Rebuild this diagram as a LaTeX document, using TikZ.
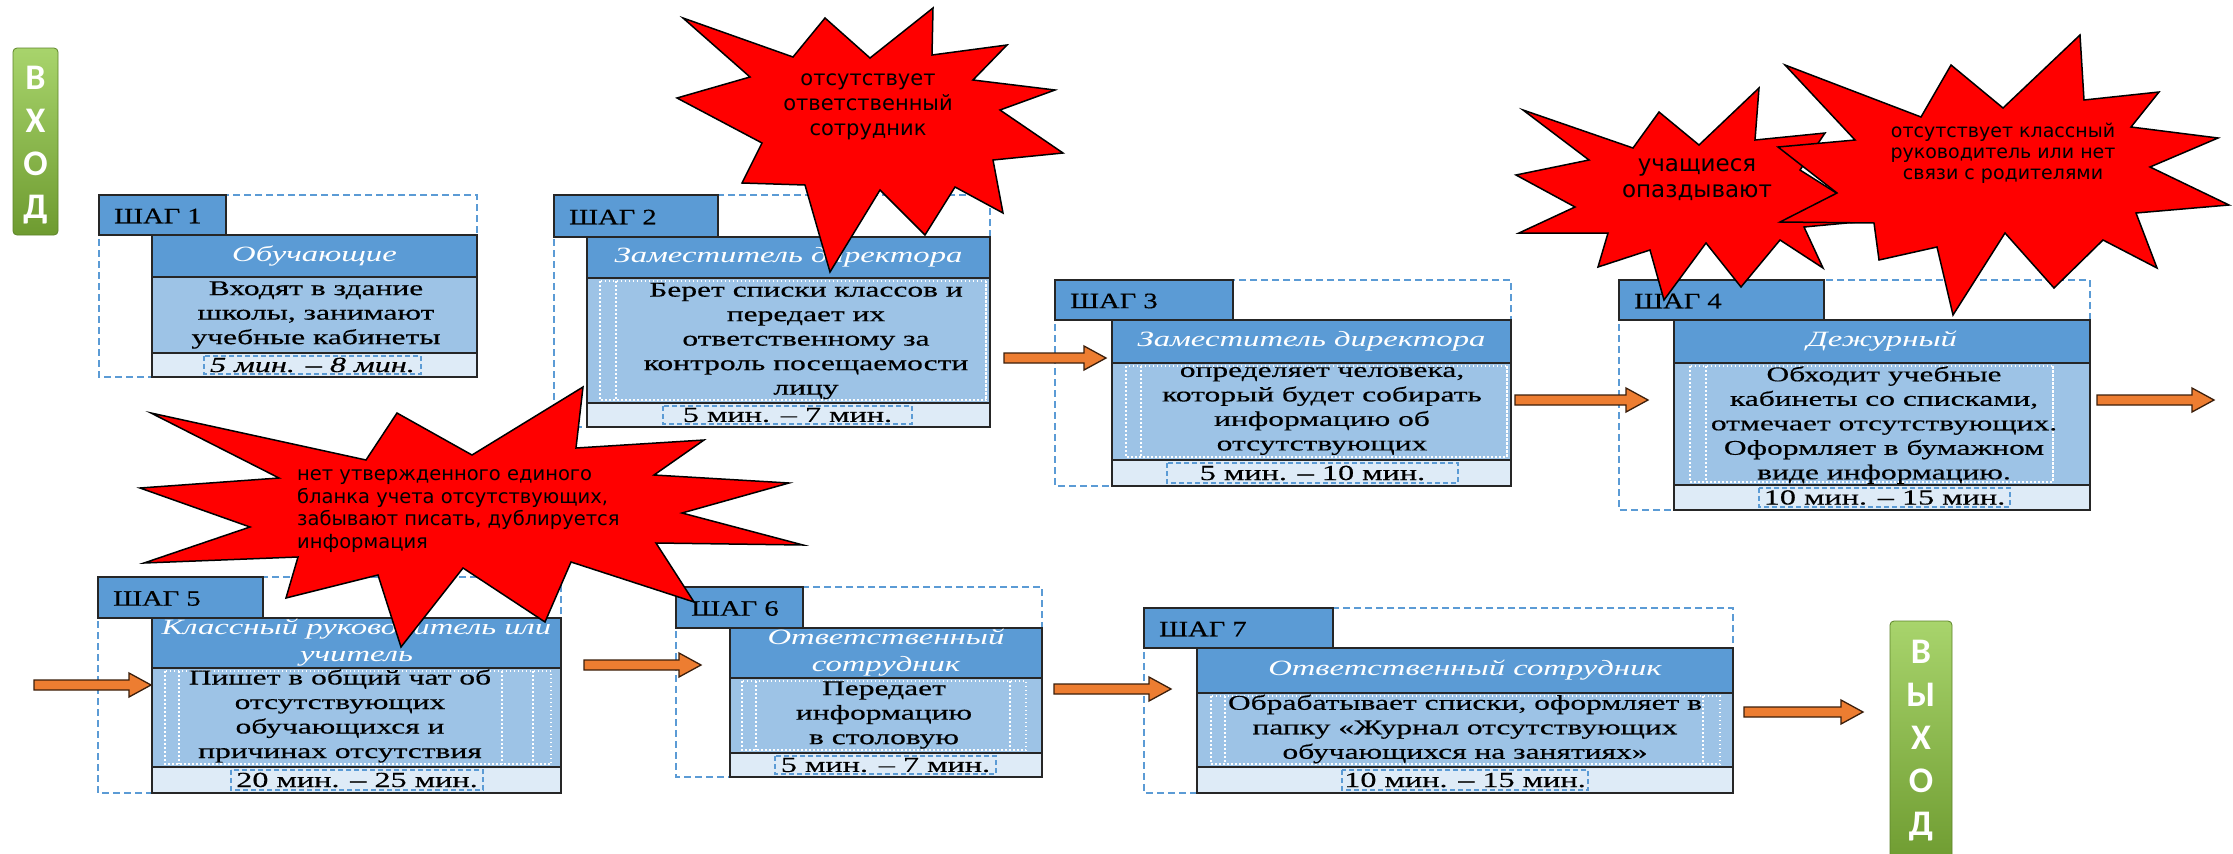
\documentclass[tikz,border=0pt]{standalone}
\usepackage{fontspec}
\setmainfont{Liberation Serif}
\newfontfamily\serifS[FakeStretch=1.5,FakeBold=0.4]{Liberation Serif}
\newfontfamily\labfont[FakeStretch=1.3,FakeBold=0.4]{Liberation Serif}
\newfontfamily\hdrfont[FakeStretch=1.5]{Liberation Serif}
\newfontfamily\starfont{DejaVu Sans}
\newfontfamily\barfont{Carlito}
\usetikzlibrary{calc}

\definecolor{hdrblue}{HTML}{5B9BD5}
\definecolor{bodyblue}{HTML}{9DC3E6}
\definecolor{timeblue}{HTML}{DEEBF7}
\definecolor{dashblue}{HTML}{5B9BD5}
\definecolor{arrorange}{HTML}{ED7D31}
\definecolor{starred}{HTML}{FF0000}
\definecolor{bartop}{HTML}{A8D46C}
\definecolor{barbot}{HTML}{6E9B30}

\def\getX#1,#2,#3,#4\relax{\def\Xa{#1}\def\Xb{#2}\def\Xc{#3}\def\Xd{#4}}
\def\getY#1,#2,#3,#4,#5\relax{\def\Ya{#1}\def\Yb{#2}\def\Yc{#3}\def\Yd{#4}\def\Ye{#5}}
\def\getT#1,#2\relax{\def\Ta{#1}\def\Tb{#2}}

\newcommand\makestep[7]{%
  \getX#2\relax\getY#3\relax\getT#4\relax
  \draw[outerdash] (\Xa,\Ya) rectangle (\Xd,\Ye);
  \filldraw[boxline,fill=hdrblue] (\Xa,\Ya) rectangle (\Xb,\Yb);
  \node[labtext] (#1-lab) at ({\Xa+15},{(\Ya+\Yb)/2+1}) {#5};
  \filldraw[boxline,fill=hdrblue] (\Xc,\Yb) rectangle (\Xd,\Yc);
  \node[hdrtext] (#1-hdr) at ({(\Xc+\Xd)/2},{(\Yb+\Yc)/2}) {#6};
  \filldraw[boxline,fill=bodyblue] (\Xc,\Yc) rectangle (\Xd,\Yd);
  \filldraw[boxline,fill=timeblue] (\Xc,\Yd) rectangle (\Xd,\Ye);
  \draw[innerdash] (\Ta,{\Yd+3}) rectangle (\Tb,{\Ye-3});
  \node[timetext] (#1-time) at ({(\Ta+\Tb)/2},{(\Yd+\Ye)/2}) {#7};
}
\newcommand\wdots[4]{%
  \draw[wdot] ({\Xc+#1},{\Yc+3}) rectangle ({\Xd-#3},{\Yd-3});
  \draw[wdot] ({\Xc+#2},{\Yc+3}) -- ({\Xc+#2},{\Yd-3});
  \draw[wdot] ({\Xd-#4},{\Yc+3}) -- ({\Xd-#4},{\Yd-3});
}
\newcommand\blockarrow[2]{%
  \filldraw[arrowstyle] ($(#1)+(0,-5)$) -- ($(#2)+(-22,-5)$) -- ($(#2)+(-22,-12)$)
    -- (#2) -- ($(#2)+(-22,12)$) -- ($(#2)+(-22,5)$) -- ($(#1)+(0,5)$) -- cycle;
}

\tikzset{
  outerdash/.style={draw=dashblue,dash pattern=on 7pt off 4pt,line width=1.8pt},
  innerdash/.style={draw=dashblue,dash pattern=on 5pt off 3pt,line width=1.5pt},
  wdot/.style={draw=white,dash pattern=on 1.5pt off 2.5pt,line width=1.5pt},
  boxline/.style={draw=black!85,line width=2.2pt},
  labtext/.style={anchor=west,inner sep=0pt,font=\labfont\fontsize{22}{25}\selectfont},
  hdrtext/.style={text=white,align=center,inner sep=0pt,font=\hdrfont\itshape\fontsize{21.8}{27}\selectfont},
  timetext/.style={inner sep=0pt,font=\serifS\fontsize{21.5}{24}\selectfont},
  bodytext/.style={align=center,inner sep=0pt,font=\serifS\fontsize{21}{24.5}\selectfont},
  arrowstyle/.style={fill=arrorange,draw=black!75!arrorange,line width=1.3pt,line join=miter},
  starshape/.style={fill=starred,draw=black,line width=1.5pt,line join=miter},
  startext/.style={inner sep=0pt,align=center,font=\starfont\fontsize{21}{25}\selectfont},
  barshape/.style={top color=bartop,bottom color=barbot,draw=barbot!85!black,line width=0.8pt,rounded corners=4pt},
  bartext/.style={text=white,align=center,inner sep=0pt,font=\barfont\bfseries\fontsize{36}{43}\selectfont}
}

\begin{document}
\begin{tikzpicture}[x=1pt,y=-1pt]
\useasboundingbox (0,0) rectangle (2233,854);
\fill[white] (0,0) rectangle (2233,854);

% ---------- steps ----------
\makestep{s1}{99,226,152,477}{195,235,277,353,377}{204,421}{ШАГ 1}{Обучающие}{\itshape 5 мин. – 8 мин.}
\node[bodytext] (s1-body) at (316,315) {Входят в здание\\школы, занимают\\учебные кабинеты};

\makestep{s2}{554,718,587,990}{195,237,278,403,427}{663,912}{ШАГ 2}{Заместитель директора}{5 мин. – 7 мин.}
\wdots{13}{29}{4}{4}
\node[bodytext] (s2-body) at (806,341) {Берет списки классов и\\передает их\\ответственному за\\контроль посещаемости\\лицу};

\makestep{s3}{1055,1233,1112,1511}{280,320,363,460,486}{1167,1458}{ШАГ 3}{Заместитель директора}{5 мин. – 10 мин.}
\wdots{14}{29}{4}{4}
\node[bodytext] (s3-body) at (1322,411) {определяет человека,\\который будет собирать\\информацию об\\отсутствующих};

\makestep{s4}{1619,1824,1674,2090}{280,320,363,485,510}{1759,2010}{ШАГ 4}{Дежурный}{10 мин. – 15 мин.}
\wdots{16}{32}{37}{37}
\node[bodytext] (s4-body) at (1884,425) {Обходит учебные\\кабинеты со списками,\\отмечает отсутствующих.\\Оформляет в бумажном\\виде информацию.};

\makestep{s5}{98,263,152,561}{577,618,668,767,793}{231,483}{ШАГ 5}{Классный руководитель или\\учитель}{20 мин. – 25 мин.}
\wdots{13}{27}{10}{28}
\draw[wdot] (502,671) -- (502,764);
\node[bodytext] (s5-body) at (340,716) {Пишет в общий чат об\\отсутствующих\\обучающихся и\\причинах отсутствия};

\makestep{s6}{676,803,730,1042}{587,628,678,753,777}{775,996}{ШАГ 6}{Ответственный\\сотрудник}{5 мин. – 7 мин.}
\wdots{12}{26}{16}{32}
\node[bodytext] (s6-body) at (884,715) {Передает\\информацию\\в столовую};

\makestep{s7}{1144,1333,1197,1733}{608,648,693,767,793}{1342,1588}{ШАГ 7}{Ответственный сотрудник}{10 мин. – 15 мин.}
\wdots{14}{28}{13}{30}
\node[bodytext] (s7-body) at (1465,729) {Обрабатывает списки, оформляет в\\папку «Журнал отсутствующих\\обучающихся на занятиях»};

% ---------- arrows ----------
\coordinate (a5s) at (34,685);   \coordinate (a5e) at (151,685);
\coordinate (a23s) at (1004,358); \coordinate (a23e) at (1106,358);
\coordinate (a34s) at (1515,400); \coordinate (a34e) at (1648,400);
\coordinate (a4s) at (2097,400);  \coordinate (a4e) at (2214,400);
\coordinate (a56s) at (584,665);  \coordinate (a56e) at (701,665);
\coordinate (a67s) at (1054,689); \coordinate (a67e) at (1171,689);
\coordinate (a7s) at (1744,712);  \coordinate (a7e) at (1863,712);
\blockarrow{a5s}{a5e}
\blockarrow{a23s}{a23e}
\blockarrow{a34s}{a34e}
\blockarrow{a4s}{a4e}
\blockarrow{a56s}{a56e}
\blockarrow{a67s}{a67e}
\blockarrow{a7s}{a7e}

% ---------- entry / exit bars ----------
\shade[barshape] (13,48) rectangle (58,235);
\node[bartext] (entry) at (35.5,145) {В\\Х\\О\\Д};
\shade[barshape] (1890,621) rectangle (1952,866);
\node[bartext] (exit) at (1921,741) {В\\Ы\\Х\\О\\Д};

% ---------- stars ----------
\filldraw[starshape] (683,18) -- (793,57) -- (825,18) -- (870,58) -- (933,8) -- (932,55)
  -- (1007,45) -- (973,80) -- (1055,90) -- (1000,110) -- (1063,153) -- (993,160)
  -- (1003,213) -- (955,187) -- (925,235) -- (880,190) -- (830,272) -- (805,185)
  -- (742,183) -- (762,143) -- (677,98) -- (750,77) -- cycle;
\node[startext] (star2-t) at (868,107) {отсутствует\\ответственный\\сотрудник};

\filldraw[starshape] (151,413) -- (366,460) -- (397,413) -- (472,455) -- (583,387) -- (576,448)
  -- (704,440) -- (654,475) -- (789,483) -- (682,513) -- (803,545) -- (656,543)
  -- (694,602) -- (571,562) -- (545,622) -- (463,568) -- (401,647) -- (378,575)
  -- (286,598) -- (298,557) -- (144,563) -- (250,527) -- (140,488) -- (279,478) -- cycle;
\node[startext,anchor=west,align=left,font=\starfont\fontsize{19.5}{22.5}\selectfont] (star5-t) at (297,511)
  {нет утвержденного единого\\бланка учета отсутствующих,\\забывают писать, дублируется\\информация};

\filldraw[starshape] (1523,110) -- (1633,148) -- (1659,112) -- (1699,145) -- (1759,88) -- (1755,140)
  -- (1825,133) -- (1800,170) -- (1879,220) -- (1804,227) -- (1823,268) -- (1780,240)
  -- (1741,287) -- (1706,243) -- (1664,300) -- (1650,250) -- (1598,267) -- (1608,233)
  -- (1519,233) -- (1575,207) -- (1516,175) -- (1589,160) -- cycle;
\node[startext,font=\starfont\fontsize{23}{26}\selectfont] (star4a-t) at (1697,180) {учащиеся\\опаздывают};

\filldraw[starshape] (1785,65) -- (1921,117) -- (1951,65) -- (2003,108) -- (2080,35) -- (2084,100)
  -- (2159,92) -- (2131,127) -- (2218,138) -- (2150,167) -- (2229,205) -- (2136,213)
  -- (2157,268) -- (2103,240) -- (2054,288) -- (2005,233) -- (1953,315) -- (1937,247)
  -- (1879,260) -- (1874,223) -- (1780,222) -- (1837,193) -- (1778,147) -- (1855,140) -- cycle;
\node[startext,font=\starfont\fontsize{19}{21}\selectfont] (star4b-t) at (2003,153) {отсутствует классный\\руководитель или нет\\связи с родителями};
\end{tikzpicture}
\end{document}
